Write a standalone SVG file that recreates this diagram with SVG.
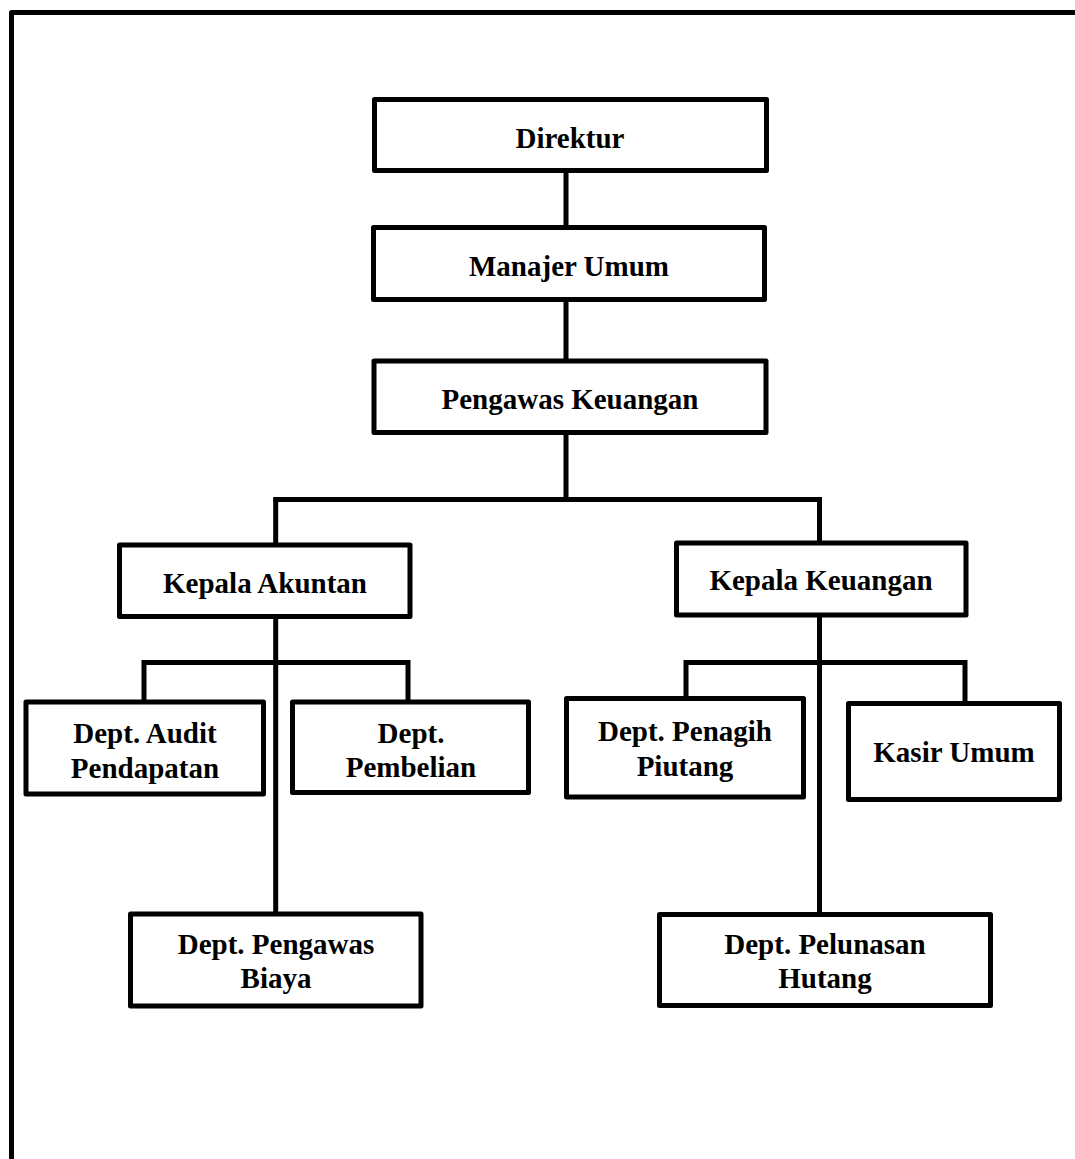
<svg xmlns="http://www.w3.org/2000/svg" width="1075" height="1159" viewBox="0 0 1075 1159">
<style>
.box{fill:#fff;stroke:#000;stroke-width:5;stroke-linejoin:round}
.ln{fill:none;stroke:#000;stroke-width:5;stroke-linecap:butt}
.t{font-family:"Liberation Serif","Times New Roman",serif;font-weight:bold;font-size:29px;fill:#000;text-anchor:middle}
</style>
<rect width="1075" height="1159" fill="#fff"/>
<path d="M11.5,1162 V12.5 H1078" fill="none" stroke="#000" stroke-width="5" stroke-linejoin="round"/>
<g id="connectors">
<path class="ln" d="M566,172 V226 M566,300 V359 M566,434 V499.5"/>
<path class="ln" d="M273.2,499.5 H822"/>
<path class="ln" d="M275.7,499.5 V543 M819.5,499.5 V541"/>
<path class="ln" d="M275.7,618 V912"/>
<path class="ln" d="M141.5,662.5 H410.5 M144,662.5 V700 M408,662.5 V700"/>
<path class="ln" d="M819.5,616 V912"/>
<path class="ln" d="M683.5,662.5 H967.5 M686,662.5 V697 M965,662.5 V702"/>
</g>
<g id="direktur"><rect class="box" x="374.5" y="99.5" width="392" height="71"/><text class="t" x="570" y="148">Direktur</text></g>
<g id="manajer-umum"><rect class="box" x="373.5" y="227.5" width="391" height="72"/><text class="t" x="569" y="276">Manajer Umum</text></g>
<g id="pengawas-keuangan"><rect class="box" x="374" y="361" width="392" height="71.5"/><text class="t" x="570" y="409">Pengawas Keuangan</text></g>
<g id="kepala-akuntan"><rect class="box" x="119.5" y="545" width="290.5" height="71.5"/><text class="t" x="265" y="593">Kepala Akuntan</text></g>
<g id="kepala-keuangan"><rect class="box" x="676.5" y="543" width="289.5" height="72"/><text class="t" x="821" y="590">Kepala Keuangan</text></g>
<g id="dept-audit"><rect class="box" x="26" y="702" width="237.5" height="92"/><text class="t" x="145" y="743">Dept. Audit</text><text class="t" x="145" y="778">Pendapatan</text></g>
<g id="dept-pembelian"><rect class="box" x="292.5" y="702" width="236" height="90.5"/><text class="t" x="411" y="743">Dept.</text><text class="t" x="411" y="777">Pembelian</text></g>
<g id="dept-penagih"><rect class="box" x="566.5" y="698.5" width="237" height="98.5"/><text class="t" x="685" y="741">Dept. Penagih</text><text class="t" x="685" y="776">Piutang</text></g>
<g id="kasir-umum"><rect class="box" x="848.5" y="703.5" width="211" height="96"/><text class="t" x="954" y="762">Kasir Umum</text></g>
<g id="dept-pengawas-biaya"><rect class="box" x="130.5" y="914" width="290.5" height="92"/><text class="t" x="276" y="954">Dept. Pengawas</text><text class="t" x="276" y="988">Biaya</text></g>
<g id="dept-pelunasan"><rect class="box" x="659.5" y="914.5" width="331" height="91"/><text class="t" x="825" y="954">Dept. Pelunasan</text><text class="t" x="825" y="988">Hutang</text></g>
</svg>
